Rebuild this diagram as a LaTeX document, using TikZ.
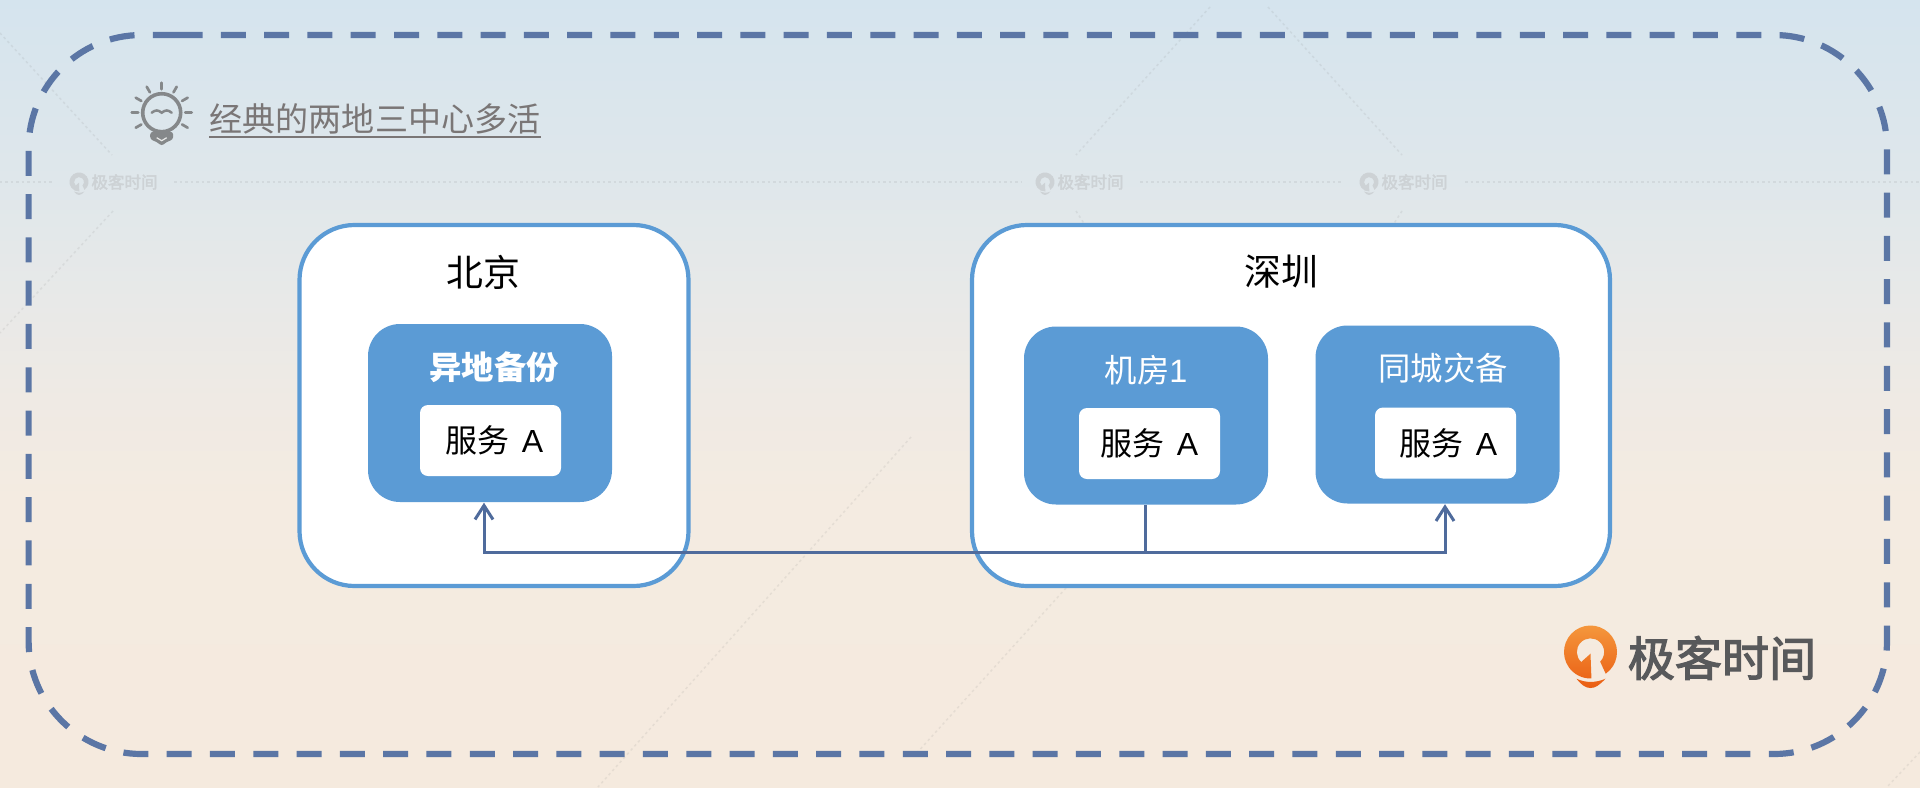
\documentclass[tikz,border=0pt]{standalone}
\usepackage{fontspec}
\usepackage{xcolor}
\usepackage{tikz}
\setmainfont{Noto Sans CJK SC}
\newfontfamily\latnfont{Liberation Sans}
\newfontfamily\gkfont[FakeBold=2.5]{Noto Sans CJK SC}
\usetikzlibrary{arrows.meta,positioning}
\definecolor{bgA}{HTML}{D5E4EE}
\definecolor{bgB}{HTML}{DFE7EB}
\definecolor{bgC}{HTML}{E8E9E8}
\definecolor{bgD}{HTML}{EFEAE4}
\definecolor{bgE}{HTML}{F4EBE1}
\definecolor{bgF}{HTML}{F5EADE}
\definecolor{frameblue}{HTML}{5B76A5}
\definecolor{cityblue}{HTML}{5B9BD5}
\definecolor{linkblue}{HTML}{4F6B9C}
\definecolor{titlegrey}{HTML}{7A7676}
\definecolor{bulbgrey}{HTML}{85888A}
\definecolor{wmgrey}{HTML}{CDD2D5}
\definecolor{logotop}{HTML}{F59A3F}
\definecolor{logobot}{HTML}{EA5D12}
\definecolor{logotext}{HTML}{58595B}
\pgfdeclareverticalshading{bgfade}{100bp}{color(0bp)=(bgF); color(25bp)=(bgF); color(43.2bp)=(bgE);
  color(49.6bp)=(bgD); color(55.9bp)=(bgC); color(63.6bp)=(bgB); color(75bp)=(bgA); color(100bp)=(bgA)}
\newcommand{\qshape}{(-55:2.65mm) arc[start angle=-55,end angle=272,radius=2.65mm] -- (0,-1.7) -- (-9.3,-10)
  arc[start angle=227,end angle=-45,radius=1.366mm] -- cycle
  (-14,-26.7) .. controls (-5,-31) and (5,-31) .. (15,-26.7) .. controls (9,-33) and (5,-36) .. (0,-36)
  .. controls (-5,-36) and (-9,-33) .. cycle}
\newcommand{\svctext}{服务\hspace{.5mm} {\latnfont A}}

\begin{document}
\begin{tikzpicture}[
  x=0.1mm,y=-0.1mm,
  city/.style={draw=cityblue,line width=.42mm,rounded corners=5.5mm,fill=white,minimum height=36.1mm,inner sep=0},
  room/.style={fill=cityblue,rounded corners=3.2mm,minimum width=24.4mm,minimum height=17.8mm,inner sep=0},
  svc/.style={fill=white,rounded corners=.8mm,minimum width=14.1mm,minimum height=7.1mm,inner sep=0,
              font=\fontsize{9.1pt}{11pt}\selectfont},
  cityname/.style={font=\fontsize{10.5pt}{12pt}\selectfont,inner sep=0},
  roomname/.style={text=white,font=\fontsize{9.2pt}{11pt}\selectfont,inner sep=0},
  arr/.style={-{Straight Barb[length=1.4mm,width=1.8mm]},line width=.3mm,color=linkblue},
  bgline/.style={draw=gray,opacity=.13,line width=.15mm,dash pattern=on .25mm off .3mm}
]
\useasboundingbox (0,0) rectangle (1920,787);
\shade[shading=bgfade] (0,0) rectangle (1920,787);

% faint lines behind everything
\foreach \ax/\ay/\bx/\by in {0/33/112/155,113/211/0/333,1210/7/1076/155,1268/7/1402/155,1076/211/1085/225,
    1402/211/1393/225,911/437/598/787,1066/588/915/755,1920/752/1887/787,0/182/52/182,174/182/1021/182,
    1140/182/1341/182,1465/182/1920/182}
  \draw[bgline] (\ax,\ay) -- (\bx,\by);
\foreach \wx/\wn in {79/wma,1045/wmb,1369/wmc} {
  \begin{scope}[shift={(\wx,182)},x=0.1mm,y=0.1mm,scale=.36]
    \fill[wmgrey,even odd rule] \qshape;
  \end{scope}
  \node[text=wmgrey,inner sep=0,font=\fontsize{4.7pt}{5pt}\selectfont\gkfont] (\wn) at (\wx+45.5,182) {极客时间};
}

% dashed frame
\draw[frameblue,line width=.62mm,dash pattern=on 2.5mm off 1.83mm,rounded corners=11.3mm]
  (177.5,35) -- (1887,35) -- (1887,754) -- (28.6,754) -- (28.6,35) -- (177.5,35);

% title with the lamp
\node[inner sep=0,minimum height=3.8mm,text=titlegrey,font=\fontsize{9.4pt}{11pt}\selectfont] (title) at (375,119) {经典的两地三中心多活};
\draw[titlegrey,line width=.2mm] (title.south west |- 0,137) -- (title.south east |- 0,137);
\begin{scope}[shift={(161.7,112.7)},x=0.1mm,y=0.1mm]
  \draw[bulbgrey,line width=.36mm] (0,0) circle[radius=1.9mm];
  \foreach \ang in {90,60,120,30,150,0,180,-30,210}
    \draw[bulbgrey,line width=.27mm,line cap=round] (\ang:2.35mm) -- (\ang:3mm);
  \fill[bulbgrey,rounded corners=.3mm] (-11.5,-19) -- (11.5,-19) -- (11.5,-27) -- (5,-29) -- (0,-33.5) -- (-5,-29) -- (-11.5,-27) -- cycle;
  \draw[bgC,line width=.12mm] (-5,-25) -- (0,-28) -- (5,-25);
  \draw[bulbgrey,line width=.25mm,line cap=round] (-10,0) .. controls (-6,3) and (-4,3) .. (0,0) .. controls (4,3) and (6,3) .. (10,0);
\end{scope}

\node[city,minimum width=38.9mm] (bj) at (494,405.5) {};
\node[city,minimum width=63.8mm] (sz) at (1291,405.5) {};
\node[cityname] (bjname) at (483.5,272) {北京};
\node[cityname] (szname) at (1281,272) {深圳};

\node[room] (bak) at (490,413) {};
\node[room] (dc) at (1146,415.5) {};
\node[room] (dr) at (1437.5,414.5) {};
\node[roomname,font=\fontsize{9.2pt}{11pt}\selectfont\bfseries] (bakname) at (494,367) {异地备份};
\node[roomname] (dcname) at (1146,370) {机房{\latnfont 1}};
\node[roomname] (drname) at (1443,368) {同城灾备};

\node[svc] (svca) at (490.5,440.5) {\hspace{.8mm}\svctext};
\node[svc] (svcb) at (1149.5,443.5) {\svctext};
\node[svc] (svcc) at (1445.5,443) {\hspace{.6mm}\svctext};

% sync links
\coordinate (jn) at (1145,552);
\draw[linkblue,line width=.3mm] (dc.south -| jn) -- (jn);
\draw[arr] (jn) -| ([xshift=-.6mm]bak.south);
\draw[arr] (jn) -| ([xshift=.75mm]dr.south);

% logo
\begin{scope}[shift={(1590.5,652)},x=0.1mm,y=0.1mm]
  \shade[top color=logotop,bottom color=logobot,even odd rule] \qshape;
\end{scope}
\node[inner sep=0,text=logotext,font=\fontsize{13.4pt}{15pt}\selectfont\gkfont] (logo) at (1722,658) {极客时间};
\end{tikzpicture}
\end{document}
